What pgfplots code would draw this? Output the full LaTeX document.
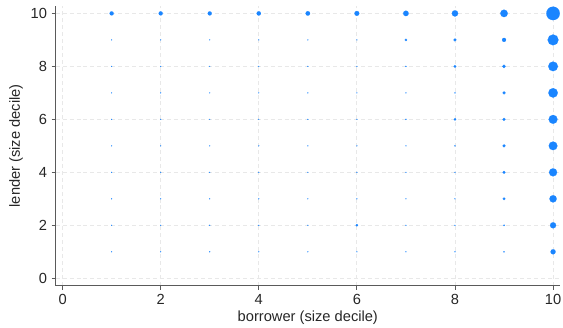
\documentclass[border=0pt]{standalone}
\usepackage{pgfplots}
\usepackage{pgfplotstable}
\pgfplotsset{compat=1.18}
\usepackage{fontspec}
\setmainfont{Liberation Sans}
\definecolor{stblue}{RGB}{26,133,255}
\definecolor{gridc}{RGB}{232,232,232}
\definecolor{axc}{RGB}{90,90,90}
\pgfplotstableread{
x y r
1 10 1.50
2 10 1.50
3 10 1.50
4 10 1.58
5 10 1.65
6 10 1.80
7 10 2.03
8 10 2.33
9 10 2.78
10 10 5.03
1 9 0.36
2 9 0.36
3 9 0.36
4 9 0.36
5 9 0.36
6 9 0.36
7 9 0.90
8 9 1.13
9 9 1.50
10 9 4.05
1 8 0.36
2 8 0.36
3 8 0.36
4 8 0.36
5 8 0.36
6 8 0.36
7 8 0.45
8 8 0.98
9 8 1.28
10 8 3.60
1 7 0.36
2 7 0.36
3 7 0.36
4 7 0.36
5 7 0.36
6 7 0.36
7 7 0.36
8 7 0.45
9 7 1.13
10 7 3.53
1 6 0.36
2 6 0.36
3 6 0.36
4 6 0.36
5 6 0.36
6 6 0.36
7 6 0.45
8 6 0.90
9 6 1.13
10 6 3.30
1 5 0.36
2 5 0.36
3 5 0.36
4 5 0.36
5 5 0.36
6 5 0.36
7 5 0.36
8 5 0.45
9 5 1.13
10 5 3.23
1 4 0.36
2 4 0.36
3 4 0.36
4 4 0.36
5 4 0.36
6 4 0.36
7 4 0.36
8 4 0.36
9 4 1.05
10 4 3.00
1 3 0.36
2 3 0.36
3 3 0.36
4 3 0.36
5 3 0.36
6 3 0.36
7 3 0.36
8 3 0.36
9 3 0.98
10 3 2.70
1 2 0.36
2 2 0.36
3 2 0.36
4 2 0.36
5 2 0.36
6 2 0.90
7 2 0.36
8 2 0.36
9 2 0.55
10 2 2.25
1 1 0.36
2 1 0.36
3 1 0.36
4 1 0.36
5 1 0.36
6 1 0.36
7 1 0.36
8 1 0.36
9 1 0.50
10 1 1.88
}\bubbles
\begin{document}
\begin{tikzpicture}[x=1pt,y=1pt]
\path[use as bounding box] (-41.8,-31.7) rectangle (380.5,214.3);
\begin{axis}[
  at={(0,0)}, anchor=south west,
  scale only axis, width=378.2pt, height=209.8pt,
  xmin=-0.14, xmax=10.14, ymin=-0.28, ymax=10.28,
  axis x line*=bottom, axis y line*=left,
  xtick={0,2,...,10}, ytick={0,2,...,10},
  tick align=outside, major tick length=3pt,
  grid=major, grid style={dash pattern=on 3pt off 2.2pt, gridc, line width=0.6pt},
  axis line style={axc, line width=0.6pt},
  tick style={axc, line width=0.6pt},
  /pgf/number format/assume math mode=true,
  ticklabel style={font=\fontsize{11}{13}\selectfont, text=black!85},
  label style={font=\fontsize{11}{13}\selectfont, text=black!85},
  xlabel={borrower (size decile)}, ylabel={lender (size decile)},
  xlabel style={yshift=2.5pt},
  ylabel style={yshift=-1pt},
  clip=false,
]
\addplot[only marks, mark=*, scatter,
  scatter/use mapped color={draw=stblue, fill=stblue},
  mark options={line width=0.1pt},
  visualization depends on={\thisrow{r} \as \rad},
  scatter/@pre marker code/.append style={/tikz/mark size=\rad pt}]
  table[x=x, y=y] {\bubbles};
\end{axis}
\end{tikzpicture}
\end{document}
